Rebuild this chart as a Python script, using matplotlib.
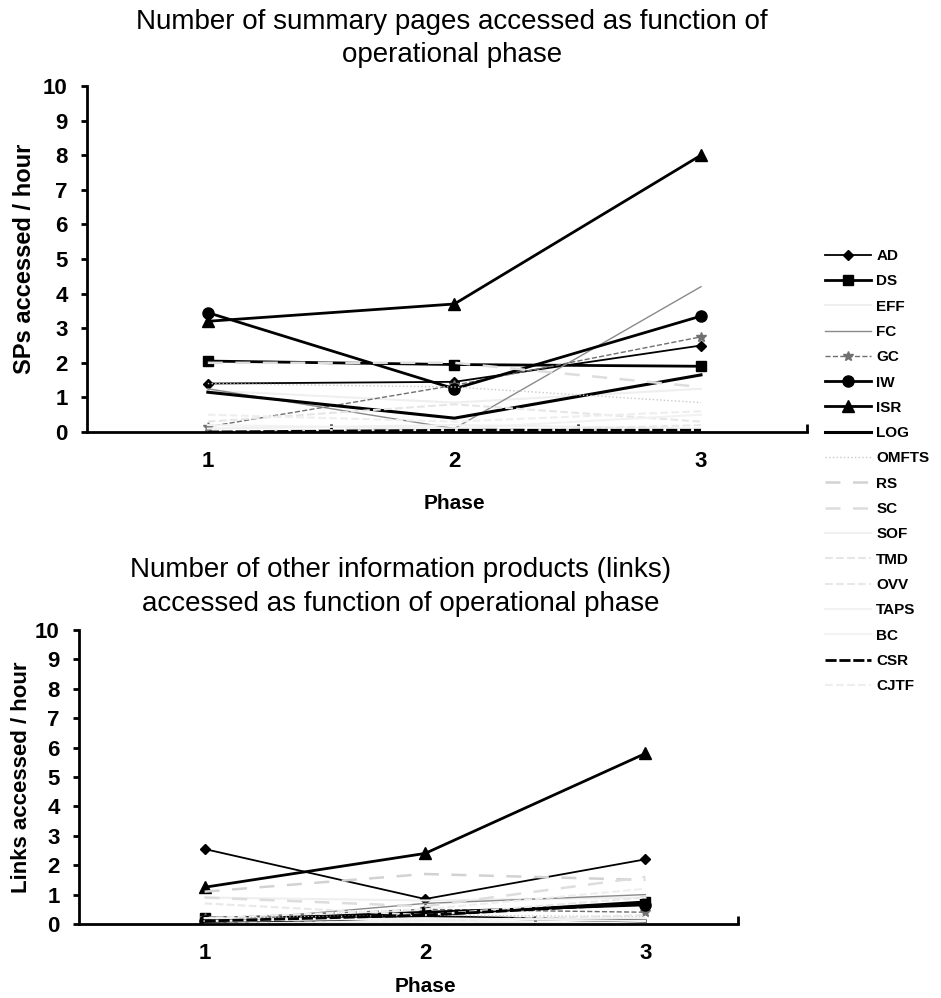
import matplotlib
matplotlib.use('Agg')
import matplotlib.pyplot as plt
from matplotlib.ticker import FixedLocator, NullFormatter

# fonts: condensed bold look of the scanned excel chart
NARROW = ['Liberation Sans Narrow', 'Liberation Sans', 'DejaVu Sans']
plt.rcParams['font.family'] = ['Liberation Sans', 'DejaVu Sans']

phases = [1, 2, 3]
series = ['AD', 'DS', 'EFF', 'FC', 'GC', 'IW', 'ISR', 'LOG', 'OMFTS',
          'RS', 'SC', 'SOF', 'TMD', 'OVV', 'TAPS', 'BC', 'CSR', 'CJTF']

# summary pages accessed per hour (rows follow `series`)
sp_per_hour = [
    [1.40, 1.45, 2.50],   # AD
    [2.05, 1.95, 1.90],   # DS
    [1.20, 0.85, 1.25],   # EFF
    [1.25, 0.10, 4.20],   # FC
    [0.15, 1.35, 2.75],   # GC
    [3.45, 1.25, 3.35],   # IW
    [3.20, 3.70, 8.00],   # ISR
    [1.15, 0.40, 1.65],   # LOG
    [1.40, 1.30, 0.85],   # OMFTS
    [0.00, 0.10, 0.00],   # RS
    [2.00, 2.00, 1.30],   # SC
    [0.10, 0.20, 0.10],   # SOF
    [0.30, 0.80, 0.30],   # TMD
    [0.00, 0.00, 0.20],   # OVV
    [0.20, 0.10, 0.50],   # TAPS
    [0.00, 0.00, 0.00],   # BC
    [0.00, 0.05, 0.05],   # CSR
    [0.50, 0.30, 0.60],   # CJTF
]

# other information products (links) accessed per hour
links_per_hour = [
    [2.55, 0.85, 2.20],   # AD
    [0.20, 0.30, 0.75],   # DS
    [0.90, 0.80, 0.90],   # EFF
    [0.05, 0.70, 1.00],   # FC
    [0.20, 0.50, 0.40],   # GC
    [0.10, 0.40, 0.65],   # IW
    [1.25, 2.40, 5.80],   # ISR
    [0.00, 0.25, 0.10],   # LOG
    [0.20, 0.30, 0.25],   # OMFTS
    [1.10, 1.70, 1.50],   # RS
    [0.90, 0.60, 1.60],   # SC
    [0.20, 0.15, 0.20],   # SOF
    [0.00, 0.10, 0.30],   # TMD
    [0.70, 0.30, 0.90],   # OVV
    [0.10, 0.20, 0.10],   # TAPS
    [0.00, 0.10, 0.00],   # BC
    [0.10, 0.30, 0.70],   # CSR
    [0.20, 0.50, 1.20],   # CJTF
]

# line look per series (black & white scan: light colours nearly vanish)
styles = {
    'AD':    dict(color='black', lw=1.3, marker='D', ms=5),
    'DS':    dict(color='black', lw=2.0, marker='s', ms=7),
    'EFF':   dict(color='#efefef', lw=1.5),
    'FC':    dict(color='#8a8a8a', lw=1.0),
    'GC':    dict(color='#707070', lw=1.0, marker='*', ms=7, ls='--'),
    'IW':    dict(color='black', lw=2.0, marker='o', ms=8),
    'ISR':   dict(color='black', lw=2.0, marker='^', ms=9),
    'LOG':   dict(color='black', lw=2.2),
    'OMFTS': dict(color='#c8c8c8', lw=1.0, ls=':'),
    'RS':    dict(color='#d2d2d2', lw=1.8, ls=(0, (6, 5))),
    'SC':    dict(color='#dddddd', lw=1.8, ls=(0, (6, 5))),
    'SOF':   dict(color='#f0f0f0', lw=1.5),
    'TMD':   dict(color='#e6e6e6', lw=1.5, ls='--'),
    'OVV':   dict(color='#e8e8e8', lw=1.5, ls='--'),
    'TAPS':  dict(color='#f2f2f2', lw=1.5),
    'BC':    dict(color='#f2f2f2', lw=1.5),
    'CSR':   dict(color='black', lw=2.0, ls=(0, (4, 1))),
    'CJTF':  dict(color='#eeeeee', lw=1.5, ls='--'),
}


def draw_panel(ax, values, xlim, ylabel, ylabel_size, labelpad):
    handles = []
    for name, vals in zip(series, values):
        line, = ax.plot(phases, vals, label=name, **styles[name])
        handles.append(line)
    ax.set_xlim(*xlim)
    ax.set_ylim(0, 10)
    ax.set_yticks(range(0, 11))
    ax.set_xticks(phases)
    ax.set_xticklabels([str(p) for p in phases])
    ax.xaxis.set_minor_locator(FixedLocator([1.5, 2.5, xlim[1]]))
    ax.xaxis.set_minor_formatter(NullFormatter())
    ax.tick_params(axis='x', which='major', length=0, pad=14)
    ax.tick_params(axis='x', which='minor', length=6, width=2, direction='in')
    ax.tick_params(axis='y', length=4, width=2, pad=10, direction='out')
    for lab in ax.get_xticklabels() + ax.get_yticklabels():
        lab.set_family(NARROW)
        lab.set_fontweight('bold')
        lab.set_fontsize(16)
    for s in ['top', 'right']:
        ax.spines[s].set_visible(False)
    for s in ['left', 'bottom']:
        ax.spines[s].set_linewidth(2)
    ax.set_ylabel(ylabel, fontsize=ylabel_size, fontweight='bold', labelpad=labelpad)
    ax.text(2, -0.18, 'Phase', transform=ax.get_xaxis_transform(),
            ha='center', va='top', fontsize=15, fontweight='bold', family=NARROW)
    return handles


fig = plt.figure(figsize=(9.41, 9.98), dpi=100)
ax_top = fig.add_axes([87 / 941, 1 - 432 / 998, 720 / 941, 346 / 998])
ax_bot = fig.add_axes([79 / 941, 1 - 924 / 998, 659 / 941, 294 / 998])

handles = draw_panel(ax_top, sp_per_hour, (0.51, 3.43), 'SPs accessed / hour', 17, 5)
draw_panel(ax_bot, links_per_hour, (0.43, 3.42), 'Links accessed / hour', 16, 2)

title_kw = dict(ha='center', va='center', fontsize=20)
fig.text(452 / 941, 1 - 22 / 998, 'Number of summary pages accessed as function of', **title_kw)
fig.text(452 / 941, 1 - 55 / 998, 'operational phase', **title_kw)
fig.text(401 / 941, 1 - 570 / 998, 'Number of other information products (links)', **title_kw)
fig.text(401 / 941, 1 - 604 / 998, 'accessed as function of operational phase', **title_kw)

fig.legend(handles=handles, loc='upper left', bbox_to_anchor=(825 / 941, 1 - 249 / 998),
           frameon=False, borderpad=0, borderaxespad=0, handlelength=3.0,
           handletextpad=0.35, labelspacing=0.74,
           prop=dict(weight='bold', size=11))

fig.savefig('out.png', dpi=100)
